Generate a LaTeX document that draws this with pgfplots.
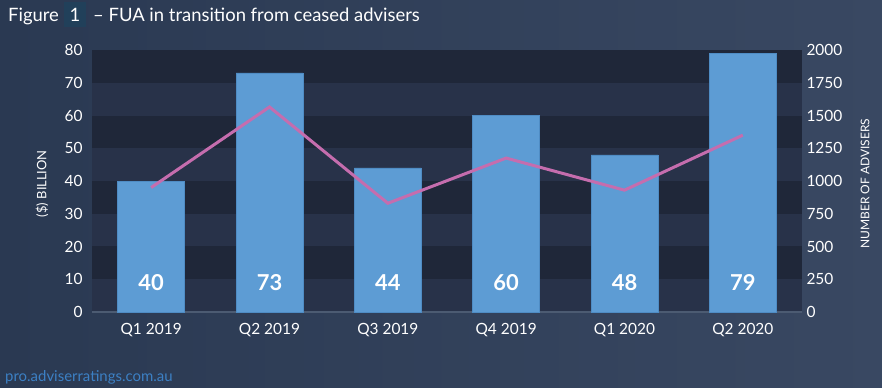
\documentclass[border=0pt]{standalone}
\usepackage{fontspec}
\setmainfont{Lato}
\usepackage{pgfplots}
\pgfplotsset{compat=1.18}
\definecolor{bgA}{HTML}{2A3952}
\definecolor{bgB}{HTML}{394862}
\definecolor{bandD}{HTML}{1F2739}
\definecolor{bandL}{HTML}{283249}
\definecolor{barc}{HTML}{5D9CD4}
\definecolor{bare}{HTML}{4F8CC4}
\definecolor{linec}{HTML}{C56DAE}
\definecolor{urlc}{HTML}{3C80C4}
\definecolor{hl}{HTML}{21405A}
\definecolor{baseln}{HTML}{4C5B72}
\begin{document}
\begin{tikzpicture}
\useasboundingbox (0bp,0bp) rectangle (882bp,388bp);
\shade[left color=bgA, right color=bgB] (0bp,0bp) rectangle (882bp,388bp);
\fill[hl] (64bp,361bp) rectangle (86bp,386bp);
\node[anchor=base west, inner sep=0, text=white, font=\fontsize{18.5}{20}\selectfont] at (8bp,366bp) {Figure};
\node[anchor=base, inner sep=0, text=white, font=\fontsize{18.5}{20}\selectfont] at (75bp,366bp) {1};
\node[anchor=base west, inner sep=0, text=white, font=\fontsize{18.5}{20}\selectfont] at (93bp,366bp) {– FUA in transition from ceased advisers};
\node[anchor=base west, inner sep=0, text=urlc, font=\fontsize{15}{16}\selectfont] at (5bp,7bp) {pro.adviserratings.com.au};
\begin{axis}[
  at={(92bp,76bp)}, anchor=south west, scale only axis,
  width=710bp, height=262bp,
  xmin=-0.5, xmax=5.5, ymin=0, ymax=80,
  axis line style={draw=none}, tick style={draw=none},
  xtick={0,...,5},
  xticklabels={Q1 2019,Q2 2019,Q3 2019,Q4 2019,Q1 2020,Q2 2020},
  ytick={0,10,...,80},
  /pgf/number format/assume math mode=true,
  xticklabel style={text=white, font=\fontsize{15.5}{16}\selectfont, yshift=-8bp},
  yticklabel style={text=white, font=\fontsize{15.5}{16}\selectfont, xshift=-6bp},
  ylabel={(\$) BILLION},
  every axis y label/.style={at={(axis description cs:-0.0704,0.49)}, rotate=90, anchor=center, text=white, font=\fontsize{13}{14}\selectfont},
  clip=false,
]
\fill[bandL] (axis cs:-0.5,0) rectangle (axis cs:5.5,10);
\fill[bandD] (axis cs:-0.5,10) rectangle (axis cs:5.5,20);
\fill[bandL] (axis cs:-0.5,20) rectangle (axis cs:5.5,30);
\fill[bandD] (axis cs:-0.5,30) rectangle (axis cs:5.5,40);
\fill[bandL] (axis cs:-0.5,40) rectangle (axis cs:5.5,50);
\fill[bandD] (axis cs:-0.5,50) rectangle (axis cs:5.5,60);
\fill[bandL] (axis cs:-0.5,60) rectangle (axis cs:5.5,70);
\fill[bandD] (axis cs:-0.5,70) rectangle (axis cs:5.5,80);
\draw[baseln, line width=2bp] (axis cs:-0.5,0) -- (axis cs:5.5,0);
\addplot[ybar, bar width=67bp, fill=barc, draw=bare] coordinates {(0,40)(1,73)(2,44)(3,60)(4,48)(5,79)};
\addplot[only marks, mark=none, nodes near coords, point meta=explicit symbolic,
  nodes near coords style={anchor=center, text=white, font=\fontsize{22}{24}\selectfont\bfseries}]
  coordinates {(0,8.9)[40] (1,8.9)[73] (2,8.9)[44] (3,8.9)[60] (4,8.9)[48] (5,8.9)[79]};
\end{axis}
\begin{axis}[
  at={(92bp,76bp)}, anchor=south west, scale only axis,
  width=710bp, height=262bp,
  xmin=-0.5, xmax=5.5, ymin=0, ymax=2000,
  axis x line=none, axis y line*=right,
  axis line style={draw=none}, tick style={draw=none},
  ytick={0,250,...,2000},
  /pgf/number format/assume math mode=true,
  /pgf/number format/1000 sep={},
  yticklabel style={text=white, font=\fontsize{15.5}{16}\selectfont, xshift=1bp},
  ylabel={NUMBER OF ADVISERS},
  every axis y label/.style={at={(axis description cs:1.0887,0.49)}, rotate=90, anchor=center, text=white, font=\fontsize{12}{13}\selectfont},
  clip=false,
]
\addplot[linec, line width=3bp, mark=none] coordinates {(0,950)(1,1565)(2,830)(3,1175)(4,930)(5,1350)};
\end{axis}
\end{tikzpicture}
\end{document}
